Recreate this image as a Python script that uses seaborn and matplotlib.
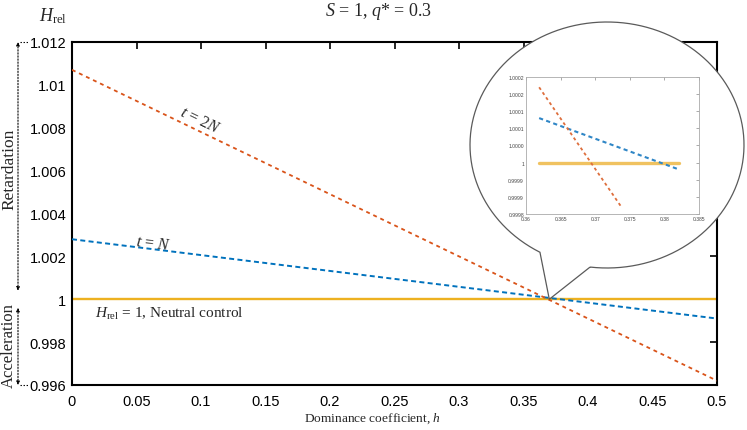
import numpy as np
import pandas as pd
import matplotlib
matplotlib.use("Agg")
import matplotlib.pyplot as plt
import seaborn as sns
from matplotlib.patches import Ellipse, PathPatch
from matplotlib.path import Path
from matplotlib.transforms import IdentityTransform, blended_transform_factory
from matplotlib.lines import Line2D

# ---------------- data ----------------
h = [0.0, 0.5]
H_2N = [1.0107, 0.9962]
H_N = [1.0028, 0.9991]
H_neutral = [1.0, 1.0]

x_ticks = [0, 0.05, 0.1, 0.15, 0.2, 0.25, 0.3, 0.35, 0.4, 0.45, 0.5]
x_tick_labels = ["0", "0.05", "0.1", "0.15", "0.2", "0.25", "0.3", "0.35", "0.4", "0.45", "0.5"]
y_ticks = [0.996, 0.998, 1.0, 1.002, 1.004, 1.006, 1.008, 1.010, 1.012]
y_tick_labels = ["0.996", "0.998", "1", "1.002", "1.004", "1.006", "1.008", "1.01", "1.012"]

inset_h_2N = [0.3619, 0.3738]
inset_H_2N = [1.00022, 0.99987]
inset_h_N = [0.3619, 0.3821]
inset_H_N = [1.00013, 0.99998]
inset_h_neutral = [0.3619, 0.3821]
inset_H_neutral = [1.0, 1.0]
inset_x_ticks = [0.36, 0.365, 0.37, 0.375, 0.38, 0.385]
inset_x_labels = ["0.36", "0.365", "0.37", "0.375", "0.38", "0.385"]
inset_y_ticks = [0.99985, 0.9999, 0.99995, 1.0, 1.00005, 1.0001, 1.00015, 1.0002, 1.00025]
inset_y_labels = ["0.9998", "0.9999", "0.9999", "1", "1.0000", "1.0001", "1.0001", "1.0002", "1.0002"]

crossing_h = 0.37
crossing_H = 1.0

# ---------------- style ----------------
sns.set_style("white")
plt.rcParams["font.family"] = ["Liberation Sans", "DejaVu Sans"]
plt.rcParams["mathtext.fontset"] = "custom"
plt.rcParams["mathtext.rm"] = "Liberation Serif"
plt.rcParams["mathtext.it"] = "Liberation Serif:italic"
plt.rcParams["mathtext.bf"] = "Liberation Serif:bold"
plt.rcParams["lines.scale_dashes"] = False

RED = "#D95319"
BLUE = "#0072BD"
YEL = "#EDB120"
SERIF = ["Liberation Serif", "DejaVu Serif"]

W, H = 747, 431
fig = plt.figure(figsize=(W / 100, H / 100), dpi=100)
ax = fig.add_axes([72 / W, 45 / H, 645 / W, 343 / H])
ax.set_facecolor("white")

sns.lineplot(x=h, y=H_neutral, ax=ax, color=YEL, lw=1.7, zorder=2)
sns.lineplot(x=h, y=H_N, ax=ax, color=BLUE, lw=1.4, linestyle=(0, (3.6, 2.4)), zorder=3)
sns.lineplot(x=h, y=H_2N, ax=ax, color=RED, lw=1.3, linestyle=(0, (2.8, 2.8)), zorder=3)

ax.set_xlim(0, 0.5)
ax.set_ylim(0.996, 1.012)
ax.set_xticks(x_ticks)
ax.set_xticklabels(x_tick_labels)
ax.set_yticks(y_ticks)
ax.set_yticklabels(y_tick_labels)
ax.tick_params(direction="in", top=True, right=True, length=5, width=1.2,
               labelsize=10.5, colors="black")
ax.tick_params(axis="x", pad=6.5)
ax.tick_params(axis="y", pad=4)
for s in ax.spines.values():
    s.set_linewidth(1.5)
    s.set_color("black")
    s.set_visible(True)

ax.set_xlabel(r"Dominance coefficient, $h$", fontfamily=SERIF, fontsize=9.6)
ax.xaxis.set_label_coords((372 - 72) / 645, (H - 419 - 45) / 343)
ax.xaxis.label.set_va("center")

# title and axis symbol
fig.text(379 / W, 1 - 11 / H, r"$S$ = 1, $q$* = 0.3", fontfamily=SERIF, fontsize=13,
         ha="center", va="center")
fig.text(53 / W, 1 - 16 / H, r"$H_{\rm rel}$", fontfamily=SERIF, fontsize=13,
         ha="center", va="center")

# line annotations
ax.text(0.0995, 1.00835, r"$t$ = 2$N$", fontfamily=SERIF, fontsize=11.5,
        rotation=-25.7, rotation_mode="anchor", ha="center", va="center")
ax.text(0.063, 1.00263, r"$t$ = $N$", fontfamily=SERIF, fontsize=11.5,
        rotation=-7, rotation_mode="anchor", ha="center", va="center")
ax.text(0.018, 0.99937, r"$H_{\rm rel}$ = 1, Neutral control", fontfamily=SERIF,
        fontsize=11, ha="left", va="center")

# Retardation / Acceleration arrows
trans = blended_transform_factory(ax.transAxes, ax.transData)
xa = (18 - 72) / 645
arrow_kw = dict(arrowstyle="<|-|>", linestyle=(0, (1, 1.2)), lw=0.8, color="black",
                shrinkA=0, shrinkB=0, mutation_scale=5)
ax.annotate("", xy=(xa, 1.012), xytext=(xa, 1.0004), xycoords=trans, textcoords=trans,
            arrowprops=arrow_kw, annotation_clip=False)
ax.annotate("", xy=(xa, 0.9996), xytext=(xa, 0.996), xycoords=trans, textcoords=trans,
            arrowprops=arrow_kw, annotation_clip=False)
for yv in (1.012, 0.996):
    ax.add_line(Line2D([(20 - 72) / 645, (29 - 72) / 645], [yv, yv], transform=trans,
                       color="black", lw=0.8, linestyle=(0, (1, 1.2)), clip_on=False))
ax.text((9 - 72) / 645, 1.0061, "Retardation", transform=trans, rotation=90,
        fontfamily=SERIF, fontsize=12.5, ha="center", va="center")
ax.text((9 - 72) / 645, 0.9979, "Acceleration", transform=trans, rotation=90,
        fontfamily=SERIF, fontsize=12, ha="center", va="center")

# ---------------- speech bubble ----------------
cx, cy, rx, ry = 607, H - 146, 137, 123
tip = ax.transData.transform((crossing_h, crossing_H))
a_start = np.deg2rad(262.9)
a_end = np.deg2rad(240.7 + 360)
th = np.linspace(a_start, a_end, 400)
pts = np.column_stack([cx + rx * np.cos(th), cy + ry * np.sin(th)])
pts = np.vstack([pts, tip, pts[0]])
bubble_fill = Ellipse((cx, cy), 2 * rx, 2 * ry, transform=IdentityTransform(),
                      facecolor="white", edgecolor="none", zorder=2)
fig.add_artist(bubble_fill)
outline = PathPatch(Path(pts), transform=IdentityTransform(), facecolor="none",
                    edgecolor="#5a5a5a", lw=0.9, zorder=2.1)
fig.add_artist(outline)

# ---------------- inset ----------------
axi = fig.add_axes([526 / W, (H - 215) / H, 173 / W, 137 / H], zorder=3)
axi.set_facecolor("white")
sns.lineplot(x=inset_h_neutral, y=inset_H_neutral, ax=axi, color="#F0C260", lw=2.4, zorder=2)
sns.lineplot(x=inset_h_N, y=inset_H_N, ax=axi, color="#2F86C6", lw=1.5,
             linestyle=(0, (3.0, 2.4)), zorder=3)
sns.lineplot(x=inset_h_2N, y=inset_H_2N, ax=axi, color="#DE6E3C", lw=1.3,
             linestyle=(0, (2.2, 2.2)), zorder=3)
axi.set_xlim(0.36, 0.385)
axi.set_ylim(0.99985, 1.00025)
axi.set_xticks(inset_x_ticks)
axi.set_xticklabels(inset_x_labels)
axi.set_yticks(inset_y_ticks)
axi.set_yticklabels(inset_y_labels)
axi.tick_params(direction="in", top=True, right=True, length=2, width=0.5,
                labelsize=3.6, colors="#888888", labelcolor="#444444", pad=1.5)
for s in axi.spines.values():
    s.set_linewidth(0.6)
    s.set_color("#AAAAAA")
    s.set_visible(True)

fig.savefig("out.png", dpi=100, facecolor="white")
